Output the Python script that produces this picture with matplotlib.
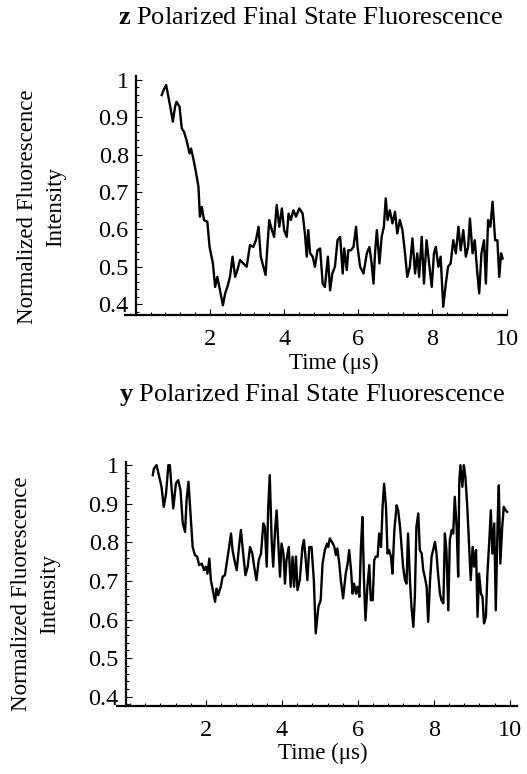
import numpy as np
import matplotlib
matplotlib.use("Agg")
import matplotlib.pyplot as plt
from matplotlib.ticker import MultipleLocator, FuncFormatter

plt.rcParams['font.family'] = ['Liberation Serif', 'DejaVu Serif']
plt.rcParams['mathtext.fontset'] = 'custom'
plt.rcParams['mathtext.rm'] = 'Liberation Serif'
plt.rcParams['mathtext.bf'] = 'Liberation Serif:bold'

# z polarized trace (time in us, normalized intensity)
z_time = [0.70, 0.75, 0.82, 0.88, 0.93, 1.00, 1.06, 1.10, 1.18, 1.24, 1.30, 1.37, 1.45, 1.49, 1.55,
          1.63, 1.69, 1.73, 1.78, 1.84, 1.93, 1.99, 2.08, 2.14, 2.20, 2.27, 2.35, 2.41, 2.47, 2.54,
          2.61, 2.68, 2.74, 2.81, 2.90, 2.99, 3.08, 3.17, 3.24, 3.31, 3.37, 3.44, 3.50, 3.56, 3.60,
          3.67, 3.73, 3.80, 3.87, 3.94, 4.00, 4.07, 4.12, 4.18, 4.25, 4.32, 4.41, 4.50, 4.56, 4.61,
          4.65, 4.70, 4.77, 4.83, 4.90, 4.97, 5.04, 5.10, 5.18, 5.24, 5.30, 5.37, 5.44, 5.51, 5.58,
          5.62, 5.69, 5.73, 5.80, 5.87, 5.94, 5.98, 6.05, 6.14, 6.23, 6.30, 6.36, 6.41, 6.45, 6.50,
          6.57, 6.63, 6.69, 6.74, 6.79, 6.85, 6.92, 6.99, 7.05, 7.12, 7.19, 7.26, 7.32, 7.39, 7.46,
          7.53, 7.59, 7.64, 7.71, 7.77, 7.84, 7.91, 7.98, 8.04, 8.09, 8.16, 8.22, 8.29, 8.36, 8.42,
          8.49, 8.56, 8.63, 8.70, 8.76, 8.83, 8.90, 8.96, 9.01, 9.08, 9.14, 9.21, 9.26, 9.32, 9.39,
          9.44, 9.50, 9.56, 9.62, 9.69, 9.75, 9.80, 9.85, 9.89]
z_signal = [0.959, 0.972, 0.986, 0.954, 0.928, 0.888, 0.928, 0.941, 0.928, 0.870, 0.861, 0.838, 0.803, 0.816, 0.790,
            0.749, 0.714, 0.634, 0.660, 0.625, 0.620, 0.553, 0.509, 0.446, 0.473, 0.437, 0.397, 0.429, 0.446, 0.473,
            0.527, 0.473, 0.491, 0.518, 0.509, 0.500, 0.558, 0.553, 0.571, 0.607, 0.527, 0.500, 0.478, 0.571, 0.625,
            0.598, 0.580, 0.665, 0.607, 0.656, 0.598, 0.580, 0.642, 0.625, 0.651, 0.634, 0.656, 0.642, 0.589, 0.527,
            0.598, 0.536, 0.527, 0.500, 0.544, 0.549, 0.455, 0.446, 0.527, 0.437, 0.482, 0.500, 0.571, 0.580, 0.482,
            0.549, 0.491, 0.544, 0.544, 0.553, 0.607, 0.553, 0.500, 0.482, 0.536, 0.553, 0.509, 0.455, 0.536, 0.598,
            0.509, 0.580, 0.607, 0.683, 0.625, 0.651, 0.616, 0.647, 0.589, 0.625, 0.598, 0.536, 0.473, 0.500, 0.576,
            0.482, 0.536, 0.473, 0.580, 0.455, 0.571, 0.509, 0.446, 0.536, 0.553, 0.500, 0.527, 0.393, 0.455, 0.500,
            0.509, 0.571, 0.536, 0.607, 0.544, 0.598, 0.527, 0.553, 0.629, 0.536, 0.571, 0.482, 0.429, 0.536, 0.571,
            0.455, 0.625, 0.607, 0.674, 0.571, 0.571, 0.473, 0.536, 0.522]

# y polarized trace
y_time = [0.60, 0.63, 0.70, 0.77, 0.83, 0.89, 0.95, 1.01, 1.05, 1.10, 1.14, 1.21, 1.27, 1.33, 1.39,
          1.45, 1.49, 1.54, 1.60, 1.65, 1.71, 1.77, 1.82, 1.89, 1.95, 2.00, 2.04, 2.09, 2.13, 2.19,
          2.24, 2.28, 2.32, 2.39, 2.44, 2.50, 2.56, 2.61, 2.66, 2.70, 2.75, 2.81, 2.87, 2.92, 2.98,
          3.04, 3.10, 3.16, 3.22, 3.27, 3.33, 3.39, 3.45, 3.51, 3.55, 3.60, 3.64, 3.68, 3.73, 3.77,
          3.82, 3.86, 3.90, 3.95, 3.99, 4.04, 4.08, 4.12, 4.18, 4.23, 4.28, 4.32, 4.37, 4.41, 4.47,
          4.54, 4.58, 4.62, 4.67, 4.72, 4.78, 4.84, 4.89, 4.96, 5.02, 5.07, 5.13, 5.19, 5.22, 5.26,
          5.32, 5.38, 5.42, 5.46, 5.51, 5.55, 5.61, 5.68, 5.73, 5.77, 5.82, 5.86, 5.90, 5.95, 5.99,
          6.04, 6.08, 6.12, 6.16, 6.20, 6.25, 6.30, 6.34, 6.39, 6.43, 6.47, 6.52, 6.56, 6.61, 6.65,
          6.69, 6.74, 6.78, 6.82, 6.87, 6.91, 6.96, 7.02, 7.06, 7.11, 7.15, 7.19, 7.24, 7.28, 7.32,
          7.37, 7.41, 7.46, 7.50, 7.54, 7.59, 7.63, 7.68, 7.72, 7.76, 7.81, 7.85, 7.90, 7.94, 7.98,
          8.03, 8.07, 8.11, 8.16, 8.20, 8.25, 8.29, 8.33, 8.38, 8.42, 8.47, 8.51, 8.55, 8.60, 8.64,
          8.67, 8.70, 8.75, 8.79, 8.83, 8.88, 8.92, 8.97, 9.02, 9.06, 9.11, 9.15, 9.19, 9.24, 9.28,
          9.32, 9.37, 9.41, 9.46, 9.50, 9.54, 9.59, 9.63, 9.68, 9.71, 9.75, 9.80, 9.84, 9.89, 9.93]
y_signal = [0.974, 0.991, 1.000, 0.970, 0.944, 0.892, 0.927, 1.000, 1.000, 0.935, 0.888, 0.953, 0.961, 0.935, 0.849,
            0.827, 0.909, 0.957, 0.866, 0.788, 0.767, 0.763, 0.741, 0.745, 0.728, 0.737, 0.719, 0.758, 0.702, 0.672,
            0.646, 0.680, 0.663, 0.685, 0.711, 0.715, 0.754, 0.788, 0.823, 0.780, 0.754, 0.728, 0.788, 0.832, 0.771,
            0.715, 0.737, 0.788, 0.771, 0.737, 0.702, 0.754, 0.771, 0.849, 0.840, 0.737, 0.892, 0.974, 0.806, 0.737,
            0.832, 0.883, 0.806, 0.711, 0.797, 0.771, 0.693, 0.754, 0.788, 0.685, 0.763, 0.685, 0.763, 0.676, 0.702,
            0.788, 0.806, 0.763, 0.702, 0.788, 0.788, 0.702, 0.564, 0.633, 0.650, 0.745, 0.780, 0.797, 0.788, 0.810,
            0.801, 0.788, 0.767, 0.784, 0.745, 0.702, 0.655, 0.719, 0.745, 0.780, 0.728, 0.667, 0.693, 0.667, 0.685,
            0.659, 0.788, 0.866, 0.702, 0.598, 0.685, 0.741, 0.650, 0.650, 0.754, 0.763, 0.763, 0.823, 0.788, 0.892,
            0.952, 0.892, 0.771, 0.780, 0.763, 0.719, 0.832, 0.896, 0.883, 0.840, 0.788, 0.737, 0.702, 0.693, 0.823,
            0.702, 0.633, 0.581, 0.659, 0.840, 0.875, 0.780, 0.771, 0.728, 0.711, 0.685, 0.594, 0.702, 0.763, 0.780,
            0.801, 0.771, 0.719, 0.667, 0.650, 0.642, 0.823, 0.780, 0.624, 0.806, 0.832, 0.823, 0.918, 0.840, 0.711,
            0.961, 1.000, 0.944, 1.000, 0.970, 0.892, 0.806, 0.702, 0.788, 0.737, 0.780, 0.607, 0.719, 0.667, 0.659,
            0.590, 0.607, 0.719, 0.806, 0.883, 0.771, 0.849, 0.624, 0.857, 0.948, 0.745, 0.840, 0.892, 0.883, 0.879]

y_ticks = [0.4, 0.5, 0.6, 0.7, 0.8, 0.9, 1.0]
x_ticks = [2, 4, 6, 8, 10]

TICK_FS = 17.5
LABEL_FS = 16.5
TITLE_FS = 19


def style_axes(ax, xlim, ylim, yaxis_x):
    ax.set_xlim(*xlim)
    ax.set_ylim(*ylim)
    ax.spines['top'].set_visible(False)
    ax.spines['right'].set_visible(False)
    ax.spines['left'].set_position(('data', yaxis_x))
    ax.spines['left'].set_linewidth(1.6)
    ax.spines['bottom'].set_linewidth(1.6)
    ax.set_xticks(x_ticks)
    ax.set_yticks(y_ticks)
    ax.xaxis.set_minor_locator(MultipleLocator(0.4))
    ax.yaxis.set_minor_locator(MultipleLocator(0.02))
    ax.yaxis.set_major_formatter(FuncFormatter(lambda v, p: f"{v:g}"))
    ax.tick_params(which='both', direction='in', width=0.8)
    ax.tick_params(which='major', length=4, labelsize=TICK_FS)
    ax.tick_params(which='minor', length=2)
    ax.tick_params(axis='x', which='major', pad=10)
    ax.tick_params(axis='y', which='major', pad=5)


fig = plt.figure(figsize=(5.27, 7.74), dpi=100)

# top panel
ax1 = fig.add_axes([0.2372, 0.5930, 0.7249, 0.3088])
ax1.plot(z_time, z_signal, color='k', lw=1.7)
style_axes(ax1, (-0.29, 10.01), (0.371, 1.01), 0.0)
fig.text(310 / 527, 1 - 18 / 774, r'$\mathbf{z}$ Polarized Final State Fluorescence',
         ha='center', va='center', fontsize=TITLE_FS)
fig.text(334 / 527, 1 - 363 / 774, 'Time (\u03bcs)', ha='center', va='center', fontsize=LABEL_FS)
fig.text(42 / 527, 1 - 207 / 774, 'Normalized Fluorescence\nIntensity', rotation=90,
         ha='center', va='center', multialignment='center', fontsize=LABEL_FS, linespacing=1.45)

# bottom panel
ax2 = fig.add_axes([0.2214, 0.0879, 0.7590, 0.3156])
ax2.plot(y_time, y_signal, color='k', lw=1.7)
style_axes(ax2, (-0.35, 10.18), (0.376, 1.009), -0.11)
fig.text(312 / 527, 1 - 395 / 774, r'$\mathbf{y}$ Polarized Final State Fluorescence',
         ha='center', va='center', fontsize=TITLE_FS)
fig.text(323 / 527, 1 - 753 / 774, 'Time (\u03bcs)', ha='center', va='center', fontsize=LABEL_FS)
fig.text(36 / 527, 1 - 594 / 774, 'Normalized Fluorescence\nIntensity', rotation=90,
         ha='center', va='center', multialignment='center', fontsize=LABEL_FS, linespacing=1.45)

fig.savefig('out.png', dpi=100)
